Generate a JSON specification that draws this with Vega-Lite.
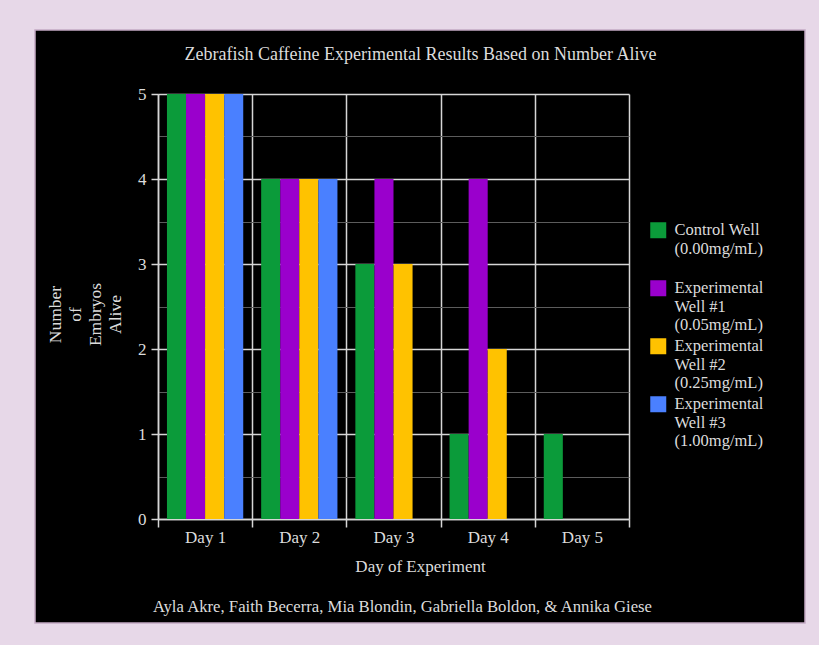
{
  "$schema": "https://vega.github.io/schema/vega-lite/v6.json",
  "width": 471,
  "height": 425,
  "autosize": {"type": "none"},
  "padding": {"left": 158, "top": 94, "right": 190, "bottom": 126},
  "background": "black",
  "title": {
    "text": "Zebrafish Caffeine Experimental Results Based on Number Alive",
    "font": "Liberation Serif",
    "fontSize": 18,
    "fontWeight": "normal",
    "color": "#dcdcdc",
    "anchor": "middle",
    "frame": "group",
    "baseline": "alphabetic",
    "offset": -118,
    "dx": 27
  },
  "datasets": {
    "alive": [
      {"day": "Day 1", "well": "Control Well (0.00mg/mL)", "count": 5},
      {"day": "Day 1", "well": "Experimental Well #1 (0.05mg/mL)", "count": 5},
      {"day": "Day 1", "well": "Experimental Well #2 (0.25mg/mL)", "count": 5},
      {"day": "Day 1", "well": "Experimental Well #3 (1.00mg/mL)", "count": 5},
      {"day": "Day 2", "well": "Control Well (0.00mg/mL)", "count": 4},
      {"day": "Day 2", "well": "Experimental Well #1 (0.05mg/mL)", "count": 4},
      {"day": "Day 2", "well": "Experimental Well #2 (0.25mg/mL)", "count": 4},
      {"day": "Day 2", "well": "Experimental Well #3 (1.00mg/mL)", "count": 4},
      {"day": "Day 3", "well": "Control Well (0.00mg/mL)", "count": 3},
      {"day": "Day 3", "well": "Experimental Well #1 (0.05mg/mL)", "count": 4},
      {"day": "Day 3", "well": "Experimental Well #2 (0.25mg/mL)", "count": 3},
      {"day": "Day 3", "well": "Experimental Well #3 (1.00mg/mL)", "count": 0},
      {"day": "Day 4", "well": "Control Well (0.00mg/mL)", "count": 1},
      {"day": "Day 4", "well": "Experimental Well #1 (0.05mg/mL)", "count": 4},
      {"day": "Day 4", "well": "Experimental Well #2 (0.25mg/mL)", "count": 2},
      {"day": "Day 4", "well": "Experimental Well #3 (1.00mg/mL)", "count": 0},
      {"day": "Day 5", "well": "Control Well (0.00mg/mL)", "count": 1},
      {"day": "Day 5", "well": "Experimental Well #1 (0.05mg/mL)", "count": 0},
      {"day": "Day 5", "well": "Experimental Well #2 (0.25mg/mL)", "count": 0},
      {"day": "Day 5", "well": "Experimental Well #3 (1.00mg/mL)", "count": 0}
    ]
  },
  "layer": [
    {
      "data": {"values": [{}]},
      "mark": {"type": "rect", "fill": null, "stroke": "#e7d8e8", "strokeWidth": 70},
      "encoding": {
        "x": {"value": -158},
        "x2": {"value": 682},
        "y": {"value": -99},
        "y2": {"value": 564}
      }
    },
    {
      "data": {"values": [{}]},
      "mark": {"type": "rect", "fill": null, "stroke": "#c4a9c4", "strokeWidth": 1.5},
      "encoding": {
        "x": {"value": -123},
        "x2": {"value": 647},
        "y": {"value": -64},
        "y2": {"value": 529}
      }
    },
    {
      "data": {"name": "alive"},
      "transform": [{"filter": {"field": "well", "oneOf": ["Control Well (0.00mg/mL)", "Experimental Well #1 (0.05mg/mL)"]}}],
      "mark": {"type": "bar"},
      "encoding": {
        "x": {
          "field": "day",
          "type": "nominal",
          "scale": {"paddingInner": 0, "paddingOuter": 0},
          "axis": {
            "title": "Day of Experiment",
            "tickBand": "extent",
            "grid": true,
            "gridColor": "#d6d6d6",
            "gridWidth": 1.5,
            "domainColor": "#d6d6d6",
            "domainWidth": 1.5,
            "tickColor": "#d6d6d6",
            "tickWidth": 1.5,
            "tickSize": 8,
            "labelAngle": 0,
            "labelFont": "Liberation Serif",
            "labelFontSize": 17,
            "labelColor": "#dcdcdc",
            "labelPadding": 2,
            "titleFont": "Liberation Serif",
            "titleFontSize": 17,
            "titleFontWeight": "normal",
            "titleColor": "#dcdcdc",
            "titleX": 262,
            "titleY": 39,
            "titleBaseline": "top"
          }
        },
        "xOffset": {"field": "well", "type": "nominal", "scale": {"paddingOuter": 0.47, "paddingInner": 0}},
        "y": {
          "field": "count",
          "type": "quantitative",
          "scale": {"domain": [0, 5], "nice": false},
          "axis": {
            "values": [0, 0.5, 1, 1.5, 2, 2.5, 3, 3.5, 4, 4.5, 5],
            "labelExpr": "datum.value % 1 ? '' : '' + datum.value",
            "grid": true,
            "gridColor": {"condition": {"test": "datum.value % 1 === 0", "value": "#d6d6d6"}, "value": "#5c5c5c"},
            "gridWidth": {"condition": {"test": "datum.value % 1 === 0", "value": 1.5}, "value": 1},
            "tickOpacity": {"condition": {"test": "datum.value % 1 === 0", "value": 1}, "value": 0},
            "domainColor": "#d6d6d6",
            "domainWidth": 1.5,
            "tickColor": "#d6d6d6",
            "tickWidth": 1.5,
            "tickSize": 7,
            "labelFont": "Liberation Serif",
            "labelFontSize": 17,
            "labelColor": "#dcdcdc",
            "labelPadding": 5,
            "title": ["Number", "of", "Embryos", "Alive"],
            "titleFont": "Liberation Serif",
            "titleFontSize": 17.5,
            "titleFontWeight": "normal",
            "titleColor": "#dcdcdc",
            "titleLineHeight": 20,
            "titlePadding": 13,
            "titleY": 220
          }
        },
        "color": {
          "field": "well",
          "type": "nominal",
          "scale": {"range": ["#0b9b3a", "#9a00cc", "#ffc200", "#4a80ff"]},
          "legend": {
            "orient": "none",
            "legendX": 492,
            "legendY": 128,
            "title": null,
            "symbolType": "square",
            "symbolSize": 256,
            "symbolStrokeWidth": 0,
            "symbolOpacity": 1,
            "labelFont": "Liberation Serif",
            "labelFontSize": 16.5,
            "labelColor": "#dcdcdc",
            "labelLineHeight": 18,
            "labelOffset": 8,
            "labelLimit": 200,
            "rowPadding": 4,
            "labelExpr": "split(replace(replace(datum.label, 'Experimental ', 'Experimental|'), ' (', '|(') + (indexof(datum.label, 'Control') === 0 ? '|' : ''), '|')"
          }
        }
      }
    },
    {
      "data": {"name": "alive"},
      "transform": [{"filter": {"field": "well", "oneOf": ["Experimental Well #2 (0.25mg/mL)", "Experimental Well #3 (1.00mg/mL)"]}}],
      "mark": {"type": "bar"},
      "encoding": {
        "x": {
          "field": "day",
          "type": "nominal",
          "axis": {
            "title": "Ayla Akre, Faith Becerra, Mia Blondin, Gabriella Boldon, & Annika Giese",
            "labels": false,
            "ticks": false,
            "domain": false,
            "grid": false,
            "titleFont": "Liberation Serif",
            "titleFontSize": 16.7,
            "titleFontWeight": "normal",
            "titleColor": "#dcdcdc",
            "titleX": 244,
            "titleY": 504,
            "titleBaseline": "top"
          }
        },
        "xOffset": {"field": "well", "type": "nominal"},
        "y": {"field": "count", "type": "quantitative"},
        "color": {"field": "well", "type": "nominal"}
      }
    }
  ],
  "resolve": {"axis": {"x": "independent"}},
  "config": {"view": {"stroke": null}}
}
